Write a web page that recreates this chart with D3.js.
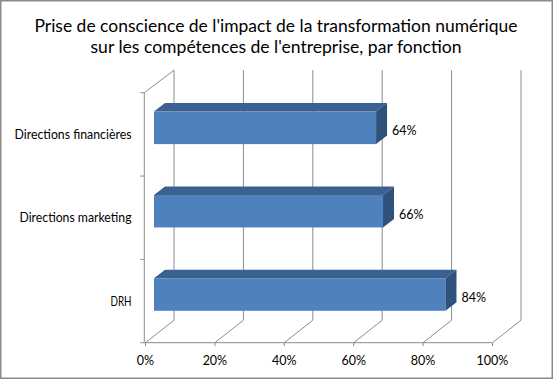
<!DOCTYPE html>
<html><head><meta charset="utf-8">
<script src="https://cdn.jsdelivr.net/npm/d3@7"></script>
<style>body{margin:0;background:#fff}svg{display:block}</style>
</head><body>
<script>
const categories = ["Directions financières", "Directions marketing", "DRH"];
const values = [64, 66, 84];
const tickValues = [0, 20, 40, 60, 80, 100];
const titleLines = ["Prise de conscience de l'impact de la transformation numérique",
                    "sur les compétences de l'entreprise, par fonction"];

const W = 553, H = 379;
const svg = d3.select("body").append("svg").attr("width", W).attr("height", H);
svg.append("rect").attr("x", 0.75).attr("y", 0.75).attr("width", W - 1.5).attr("height", H - 1.5)
  .attr("fill", "#fff").attr("stroke", "#8a8a8a").attr("stroke-width", 1.5);

// geometry
const front = {top: 92.7, bottom: 342.7};
const depth = {dx: 28.5, dy: -22.5};
const barOff = {dx: 8.5, dy: -6.5};
const barDepth = {dx: 11, dy: -8.5};

const x = d3.scaleLinear().domain([0, 100]).range([145.5, 492.5]);
const yFront = d3.scaleBand().domain(categories).range([front.top, front.bottom])
  .paddingInner(0.61).paddingOuter(0.305);
const yBar = d3.scaleBand().domain(categories).range([front.top + barOff.dy, front.bottom + barOff.dy])
  .paddingInner(0.61).paddingOuter(0.305);

const grid = svg.append("g").attr("stroke", "#8c8c8c").attr("stroke-width", 1).attr("fill", "none");
tickValues.forEach(t => {
  const fx = x(t), bx = x(t) + depth.dx;
  grid.append("line").attr("x1", fx).attr("y1", front.bottom).attr("x2", bx).attr("y2", front.bottom + depth.dy);
  grid.append("line").attr("x1", bx).attr("y1", front.bottom + depth.dy).attr("x2", bx).attr("y2", front.top + depth.dy);
});
const lx = x(0) - 1.2;
grid.append("line").attr("x1", lx).attr("y1", front.top).attr("x2", lx).attr("y2", front.bottom);
grid.append("line").attr("x1", lx).attr("y1", front.top).attr("x2", x(0) + depth.dx).attr("y2", front.top + depth.dy);
grid.append("line").attr("x1", lx).attr("y1", front.bottom).attr("x2", x(100)).attr("y2", front.bottom);
tickValues.forEach(t => {
  grid.append("line").attr("x1", x(t)).attr("y1", front.bottom).attr("x2", x(t)).attr("y2", front.bottom + 3.5);
});
const step = yFront.step();
const bounds = [front.top, front.top + step * 1, front.top + step * 2, front.bottom];
bounds.forEach(b => {
  grid.append("line").attr("x1", lx - 4).attr("y1", b).attr("x2", lx).attr("y2", b);
});

const FONT = "Lato, 'Open Sans', sans-serif";
const bars = svg.append("g");
categories.forEach((c, i) => {
  const xl = x(0) + barOff.dx, xr = x(values[i]) + barOff.dx;
  const yt = yBar(c), yb = yBar(c) + yBar.bandwidth();
  const dx = barDepth.dx, dy = barDepth.dy;
  bars.append("rect").attr("x", xl).attr("y", yt).attr("width", xr - xl).attr("height", yb - yt)
    .attr("fill", "#4f81bd");
  bars.append("path").attr("d", `M${xl},${yt}L${xl+dx},${yt+dy}L${xr+dx},${yt+dy}L${xr},${yt}Z`)
    .attr("fill", "#3b6190");
  bars.append("path").attr("d", `M${xr},${yt}L${xr+dx},${yt+dy}L${xr+dx},${yb+dy}L${xr},${yb}Z`)
    .attr("fill", "#2f527d");
  svg.append("text").attr("x", xr + 16).attr("y", (yt + yb) / 2 + 7.5)
    .attr("font-family", FONT).attr("font-size", 12.5)
    .attr("fill", "#000").text(values[i] + "%");
});

const labelWidths = [117, 112, 21];
categories.forEach((c, i) => {
  svg.append("text").attr("x", 131.5).attr("y", yFront(c) + yFront.bandwidth() / 2 + 4.5)
    .attr("text-anchor", "end")
    .attr("font-family", FONT).attr("font-size", 12.5)
    .attr("textLength", labelWidths[i]).attr("lengthAdjust", "spacingAndGlyphs")
    .attr("fill", "#000").text(c);
});

tickValues.forEach(t => {
  svg.append("text").attr("x", x(t)).attr("y", 364.5)
    .attr("text-anchor", "middle")
    .attr("font-family", FONT).attr("font-size", 12.5)
    .attr("fill", "#000").text(t + "%");
});

const titleWidths = [483, 371];
titleLines.forEach((l, i) => {
  svg.append("text").attr("x", 276).attr("y", 32 + i * 21)
    .attr("text-anchor", "middle")
    .attr("font-family", FONT).attr("font-size", 18)
    .attr("textLength", titleWidths[i]).attr("lengthAdjust", "spacingAndGlyphs")
    .attr("fill", "#000").text(l);
});
</script>
</body></html>
